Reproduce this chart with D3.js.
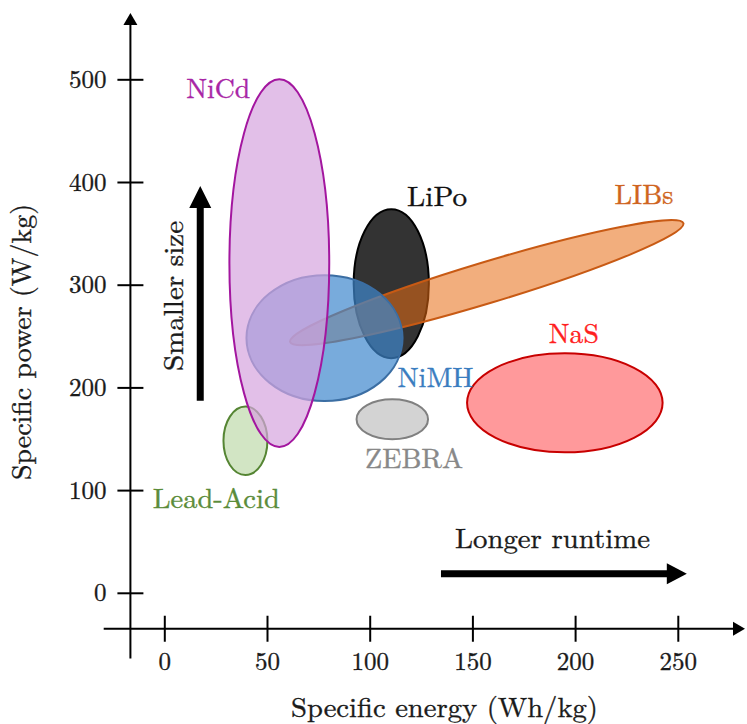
<!DOCTYPE html>
<html>
<head>
<meta charset="utf-8">
<style>
  body { margin: 0; background: #fff; }
</style>
</head>
<body>
<script src="https://cdn.jsdelivr.net/npm/d3@7"></script>
<script>
// battery regions: centre and half-spread (Wh/kg, W/kg), tilt in degrees
var batteries   = ["Lead-Acid", "NiCd", "NiMH", "LiPo", "LIBs", "NaS", "ZEBRA"];
var energyMid   = [39.5, 56, 78, 110.5, 157, 195, 111];
var powerMid    = [148, 321, 248, 301, 302, 185, 169];
var energyHalf  = [10.7, 24.3, 38, 18.3, 100, 47.6, 17.4];
var powerHalf   = [33.3, 179, 61.3, 72.5, 20, 48.2, 19.5];
var tilt        = [0, 0, 0, 0, -16.8, 0, 0];

var xTicks = [0, 50, 100, 150, 200, 250];
var yTicks = [0, 100, 200, 300, 400, 500];

var width = 747, height = 724;
var serif = "'Latin Modern Roman', 'CMU Serif', 'Liberation Serif', 'DejaVu Serif', serif";

// which one is painted over which
var drawOrder = ["LiPo", "LIBs", "NiMH", "Lead-Acid", "NiCd", "ZEBRA", "NaS"];

var style = {
  "Lead-Acid": {fill: "#d2e5c4", op: 1,    stroke: "#558533", text: "#5b8c3a"},
  "NiCd":      {fill: "#d5a4de", op: 0.7,  stroke: "#a3169f", text: "#a826a6"},
  "NiMH":      {fill: "#3e88cd", op: 0.7,  stroke: "#3b6ea3", text: "#3a7dc0"},
  "LiPo":      {fill: "#333333", op: 1,    stroke: "#000000", text: "#111111"},
  "LIBs":      {fill: "#e76c13", op: 0.55, stroke: "#c85a14", text: "#cf6420"},
  "NaS":       {fill: "#ff999b", op: 1,    stroke: "#c80000", text: "#ff1f1f"},
  "ZEBRA":     {fill: "#d3d3d3", op: 1,    stroke: "#808080", text: "#888888"}
};

// label anchors (data units) and rendered widths
var labels = {
  "Lead-Acid": {e: 25.3,  p: 82.8,  w: 127},
  "NiCd":      {e: 26.3,  p: 482,   w: 64},
  "NiMH":      {e: 132,   p: 200.5, w: 76},
  "LiPo":      {e: 132.8, p: 376.8, w: 60},
  "LIBs":      {e: 233.5, p: 378.5, w: 59},
  "NaS":       {e: 199.4, p: 243,   w: 50},
  "ZEBRA":     {e: 121.6, p: 122,   w: 98}
};

var x = d3.scaleLinear().domain([0, 250]).range([164.3, 677.8]);
var y = d3.scaleLinear().domain([0, 500]).range([592.8, 79.3]);

var svg = d3.select("body").append("svg")
    .attr("width", width)
    .attr("height", height)
    .style("font-family", serif);

// little helper so every label gets the same serif look
function label(sel, size, color){
  return sel.style("font-family", serif)
    .attr("font-size", size + "px")
    .attr("fill", color)
    .attr("stroke", color)
    .attr("stroke-width", 0.35);
}

var axisE = -16.5;   // energy value where the power axis stands
var axisP = -35;     // power value where the energy axis stands

// ellipses
var ellipses = svg.append("g");
drawOrder.forEach(function(name){
  var i = batteries.indexOf(name);
  var cx = x(energyMid[i]), cy = y(powerMid[i]);
  ellipses.append("ellipse")
    .attr("cx", cx)
    .attr("cy", cy)
    .attr("rx", x(energyMid[i] + energyHalf[i]) - cx)
    .attr("ry", cy - y(powerMid[i] + powerHalf[i]))
    .attr("transform", "rotate(" + tilt[i] + " " + cx + " " + cy + ")")
    .attr("fill", style[name].fill)
    .attr("fill-opacity", style[name].op)
    .attr("stroke", style[name].stroke)
    .attr("stroke-width", 2);
});

// battery names
batteries.forEach(function(name){
  var l = labels[name];
  svg.append("text")
    .attr("x", x(l.e))
    .attr("y", y(l.p))
    .attr("text-anchor", "middle")
    .attr("textLength", l.w)
    .attr("lengthAdjust", "spacingAndGlyphs")
    .call(label, 28, style[name].text)
    .text(name);
});

// axes
var ax = svg.append("g");
var x0 = x(axisE), y0 = y(axisP);

ax.append("line")
  .attr("x1", x(-29.5)).attr("y1", y0)
  .attr("x2", 736).attr("y2", y0)
  .attr("stroke", "#000").attr("stroke-width", 2);
ax.append("path")
  .attr("d", "M745," + y0 + " L733," + (y0 - 7) + " L733," + (y0 + 7) + "Z")
  .attr("fill", "#000");

ax.append("line")
  .attr("x1", x0).attr("y1", y(-64))
  .attr("x2", x0).attr("y2", 22)
  .attr("stroke", "#000").attr("stroke-width", 2);
ax.append("path")
  .attr("d", "M" + x0 + ",13 L" + (x0 - 7) + ",25 L" + (x0 + 7) + ",25Z")
  .attr("fill", "#000");

var xAxis = ax.append("g")
  .attr("transform", "translate(0," + y0 + ")")
  .call(d3.axisBottom(x).tickValues(xTicks).tickSize(13).tickPadding(0));
xAxis.attr("font-family", null);
xAxis.select(".domain").remove();
xAxis.selectAll(".tick line").attr("y1", -13).attr("stroke-width", 2);
xAxis.selectAll(".tick text")
  .attr("y", 41).attr("dy", 0)
  .call(label, 25, "#1a1a1a");

var yAxis = ax.append("g")
  .attr("transform", "translate(" + x0 + ",0)")
  .call(d3.axisLeft(y).tickValues(yTicks).tickSize(13).tickPadding(0));
yAxis.attr("font-family", null);
yAxis.select(".domain").remove();
yAxis.selectAll(".tick line").attr("x1", 13).attr("stroke-width", 2);
yAxis.selectAll(".tick text")
  .attr("x", -24).attr("dy", 0).attr("y", 8)
  .call(label, 25, "#1a1a1a");

// axis titles
svg.append("text")
  .attr("x", 444.5).attr("y", 717)
  .attr("text-anchor", "middle")
  .attr("textLength", 307).attr("lengthAdjust", "spacingAndGlyphs")
  .call(label, 28, "#1a1a1a")
  .text("Specific energy (Wh/kg)");

svg.append("text")
  .attr("transform", "translate(31,342) rotate(-90)")
  .attr("text-anchor", "middle")
  .attr("textLength", 276).attr("lengthAdjust", "spacingAndGlyphs")
  .call(label, 28, "#1a1a1a")
  .text("Specific power (W/kg)");

// big arrows
var vx = x(17.5), vy0 = y(187), vy1 = y(396);
svg.append("line")
  .attr("x1", vx).attr("y1", vy0).attr("x2", vx).attr("y2", vy1 + 20)
  .attr("stroke", "#000").attr("stroke-width", 7);
svg.append("path")
  .attr("d", "M" + vx + "," + vy1 + " L" + (vx - 11) + "," + (vy1 + 22) + " L" + (vx + 11) + "," + (vy1 + 22) + "Z")
  .attr("fill", "#000");
svg.append("text")
  .attr("transform", "translate(183,296) rotate(-90)")
  .attr("text-anchor", "middle")
  .attr("textLength", 150).attr("lengthAdjust", "spacingAndGlyphs")
  .call(label, 28, "#1a1a1a")
  .text("Smaller size");

var hy = y(18.5), hx0 = x(134.7), hx1 = x(254.4);
svg.append("line")
  .attr("x1", hx0).attr("y1", hy).attr("x2", hx1 - 18).attr("y2", hy)
  .attr("stroke", "#000").attr("stroke-width", 7);
svg.append("path")
  .attr("d", "M" + hx1 + "," + hy + " L" + (hx1 - 20) + "," + (hy - 10.5) + " L" + (hx1 - 20) + "," + (hy + 10.5) + "Z")
  .attr("fill", "#000");
svg.append("text")
  .attr("x", 552.5).attr("y", 548)
  .attr("text-anchor", "middle")
  .attr("textLength", 195).attr("lengthAdjust", "spacingAndGlyphs")
  .call(label, 28, "#1a1a1a")
  .text("Longer runtime");
</script>
</body>
</html>
